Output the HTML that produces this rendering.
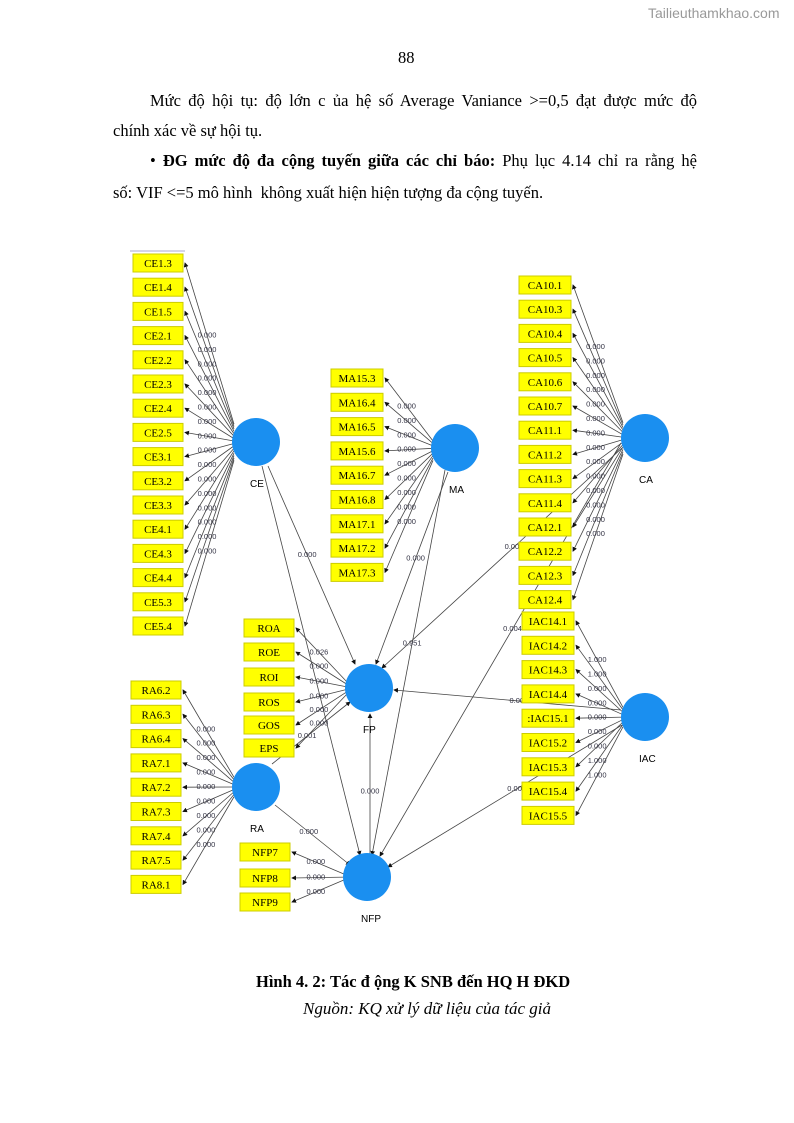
<!DOCTYPE html>
<html><head><meta charset="utf-8"><style>
body{margin:0;background:#fff}
#p{position:relative;width:794px;height:1123px;overflow:hidden;font-family:"Liberation Serif",serif;color:#000}
.t{position:absolute;font-size:16.5px;white-space:nowrap}
.j{position:absolute;left:113px;width:584px;font-size:16.5px;text-align:justify;text-align-last:justify;white-space:nowrap}
</style></head><body><div id="p">
<div class="t" style="left:648px;top:5px;font-family:'Liberation Sans',sans-serif;font-size:14px;color:#999">Tailieuthamkhao.com</div>
<div class="t" style="left:398px;top:48px">88</div>
<div class="j" style="top:91px;left:150px;width:547px">Mức độ hội tụ: độ lớn c ủa hệ số Average Vaniance &gt;=0,5 đạt được mức độ</div>
<div class="t" style="left:113px;top:121px">chính xác về sự hội tụ.</div>
<div class="j" style="top:151px;left:150px;width:547px">• <b>ĐG mức độ đa cộng tuyến giữa các chỉ báo:</b> Phụ lục 4.14 chỉ ra rằng hệ</div>
<div class="t" style="left:113px;top:183px">số: VIF &lt;=5 mô hình &nbsp;không xuất hiện hiện tượng đa cộng tuyến.</div>
<div class="t" style="left:256px;top:972px;font-weight:bold;font-size:16.5px">Hình 4. 2: Tác đ ộng K SNB đến HQ H ĐKD</div>
<div class="t" style="left:303px;top:999px;font-style:italic;font-size:17px">Nguồn: KQ xử lý dữ liệu của tác giả</div>
<svg id="s" width="794" height="1123" style="position:absolute;left:0;top:0"></svg>
</div>
<script>
var s=document.getElementById('s'),h='<defs><marker id="a" markerWidth="6" markerHeight="6" refX="5" refY="3" orient="auto"><path d="M0,0L6,3L0,6z" fill="#111"/></marker></defs>';
h+='<line x1="130" y1="251" x2="185" y2="251" stroke="#aac" stroke-width="1"/>';
var C={CE:[256,442],MA:[455,448],CA:[645,438],FP:[369,688],IAC:[645,717],RA:[256,787],NFP:[367,877]};
function ln(x1,y1,x2,y2,lab,f){f=f||0.45;h+='<line x1="'+x1+'" y1="'+y1+'" x2="'+x2+'" y2="'+y2+'" stroke="#444" stroke-width="0.8" marker-end="url(#a)"/>';
if(lab){var mx=x1+(x2-x1)*f,my=y1+(y2-y1)*f;h+='<text x="'+mx+'" y="'+(my+2)+'" font-size="7.5" font-family="Liberation Sans" fill="#334" text-anchor="middle">'+lab+'</text>';}}
function grp(c,x,w,names,ys,side,lab){var o=C[c];for(var i=0;i<names.length;i++){var y=ys[i],ex=side=='L'?x+w:x;ln(o[0]+(side=='L'?-22:22),o[1]+(y-o[1])*0.1,ex+(side=='L'?2:-2),y,lab?lab[i]||'0.000':'0.000',0.55);}
for(var i=0;i<names.length;i++){var y=ys[i];h+='<rect x="'+x+'" y="'+(y-9)+'" width="'+w+'" height="18" fill="#ffff00" stroke="#cc0"/><text x="'+(x+w/2)+'" y="'+(y+4)+'" font-size="11" font-family="Liberation Serif" text-anchor="middle">'+names[i]+'</text>';}}
function seq(a,d,n){var r=[];for(var i=0;i<n;i++)r.push(a+d*i);return r}
ln(268,466,355,664,'0.000');ln(262,466,360,855,'');ln(448,472,376,664,'0.000');ln(445,470,372,855,'0.951');
ln(622,448,382,668,'0.000');ln(621,443,380,856,'0.004');ln(621,710,394,690,'0.002');ln(622,725,388,867,'0.000');
ln(272,764,350,702,'0.001');ln(275,805,350,865,'0.000');ln(370,855,370,714,'0.000');
grp('CE',133,50,['CE1.3','CE1.4','CE1.5','CE2.1','CE2.2','CE2.3','CE2.4','CE2.5','CE3.1','CE3.2','CE3.3','CE4.1','CE4.3','CE4.4','CE5.3','CE5.4'],seq(263,24.2,16),'L');
grp('MA',331,52,['MA15.3','MA16.4','MA16.5','MA15.6','MA16.7','MA16.8','MA17.1','MA17.2','MA17.3'],seq(378,24.3,9),'L');
grp('CA',519,52,['CA10.1','CA10.3','CA10.4','CA10.5','CA10.6','CA10.7','CA11.1','CA11.2','CA11.3','CA11.4','CA12.1','CA12.2','CA12.3','CA12.4'],seq(285,24.2,14),'L');
grp('IAC',522,52,['IAC14.1','IAC14.2','IAC14.3','IAC14.4',':IAC15.1','IAC15.2','IAC15.3','IAC15.4','IAC15.5'],seq(621,24.3,9),'L',['1.000','1.000','0.000','0.000','0.000','0.000','0.000','1.000','1.000']);
grp('FP',244,50,['ROA','ROE','ROI','ROS','GOS','EPS'],[628,652,677,702,725,748],'L',['0.026','0.000','0.000','0.000','0.000','0.000']);
grp('RA',131,50,['RA6.2','RA6.3','RA6.4','RA7.1','RA7.2','RA7.3','RA7.4','RA7.5','RA8.1'],seq(690,24.3,9),'L');
grp('NFP',240,50,['NFP7','NFP8','NFP9'],[852,878,902],'L');
for(var k in C){var o=C[k];h+='<circle cx="'+o[0]+'" cy="'+o[1]+'" r="24" fill="#1a8ff0"/><text x="'+(o[0]-6)+'" y="'+(o[1]+45)+'" font-size="10" font-family="Liberation Sans">'+k+'</text>';}
s.innerHTML=h;
</script></body></html>
